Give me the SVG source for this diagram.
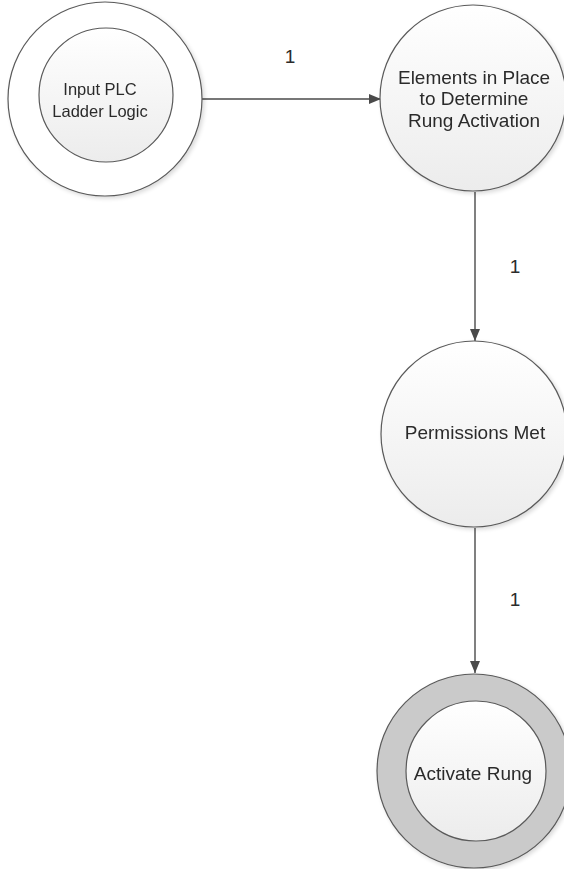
<svg xmlns="http://www.w3.org/2000/svg" width="564" height="869" viewBox="0 0 564 869">
  <style>
    .ring { stroke: #5a5a5a; stroke-width: 1.2; }
    .body { fill: url(#bodyFill); stroke: #5a5a5a; stroke-width: 1.2; }
    .label { font-family: "Liberation Sans", Arial, sans-serif; font-size: 19px; fill: #2b2b2b; text-anchor: middle; }
    .small { font-size: 16.5px; }
    .edge { stroke: #4a4a4a; stroke-width: 1.4; fill: none; marker-end: url(#arrow); }
  </style>
  <defs>
    <linearGradient id="bodyFill" x1="0" y1="0" x2="0" y2="1">
      <stop offset="0" stop-color="#ffffff"/>
      <stop offset="1" stop-color="#ececec"/>
    </linearGradient>
    <marker id="arrow" viewBox="0 0 12 10" refX="12" refY="5" markerWidth="12" markerHeight="10" markerUnits="userSpaceOnUse" orient="auto">
      <path d="M0,0 L12,5 L0,10 z" fill="#4a4a4a"/>
    </marker>
    <filter id="shadow" x="-10%" y="-10%" width="130%" height="130%">
      <feGaussianBlur in="SourceAlpha" stdDeviation="2"/>
      <feOffset dx="2" dy="2"/>
      <feComponentTransfer><feFuncA type="linear" slope="0.15"/></feComponentTransfer>
      <feMerge><feMergeNode/><feMergeNode in="SourceGraphic"/></feMerge>
    </filter>
  </defs>
  <rect width="564" height="869" fill="#ffffff"/>

  <g id="connectors">
    <line class="edge" x1="202" y1="99" x2="381" y2="99"/>
    <text class="label" x="290" y="63">1</text>
    <line class="edge" x1="475" y1="192" x2="475" y2="341"/>
    <text class="label" x="515" y="273">1</text>
    <line class="edge" x1="475" y1="528" x2="475" y2="673"/>
    <text class="label" x="515" y="606">1</text>
  </g>

  <g id="input-plc" filter="url(#shadow)">
    <circle class="ring" cx="105" cy="99" r="97" fill="#ffffff"/>
    <circle class="body" cx="106" cy="95" r="67"/>
    <text class="label small" x="100" y="95">Input PLC</text>
    <text class="label small" x="100" y="117">Ladder Logic</text>
  </g>

  <g id="elements-in-place" filter="url(#shadow)">
    <circle class="body" cx="473" cy="98" r="93"/>
    <text class="label" x="474" y="84">Elements in Place</text>
    <text class="label" x="474" y="105">to Determine</text>
    <text class="label" x="474" y="127">Rung Activation</text>
  </g>

  <g id="permissions-met" filter="url(#shadow)">
    <circle class="body" cx="474" cy="434" r="93"/>
    <text class="label" x="475" y="439">Permissions Met</text>
  </g>

  <g id="activate-rung" filter="url(#shadow)">
    <circle class="ring" cx="474" cy="771" r="97" fill="#cacaca"/>
    <circle class="body" cx="476" cy="771" r="70"/>
    <text class="label" x="473" y="780">Activate Rung</text>
  </g>
</svg>
